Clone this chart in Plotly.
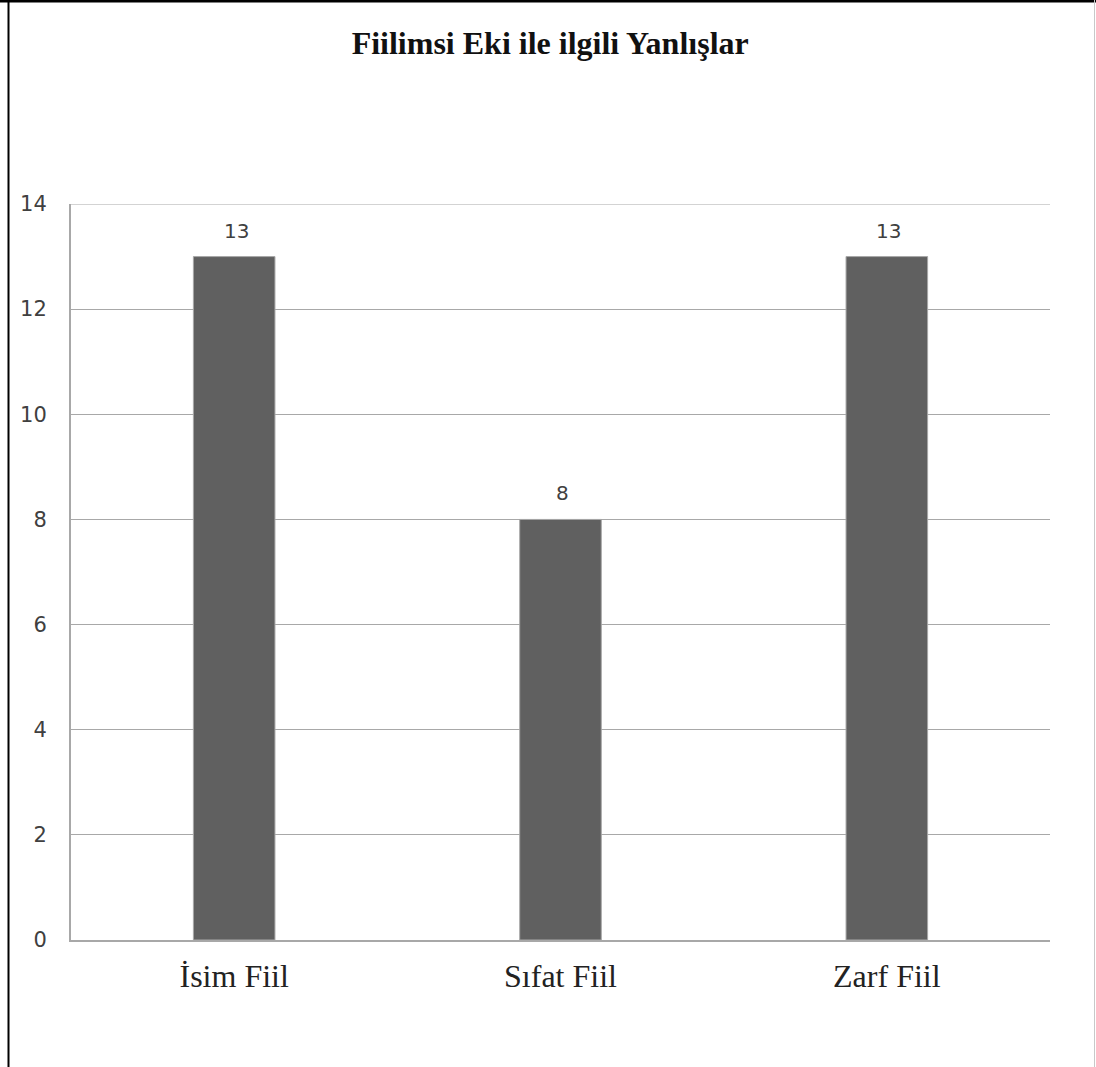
import plotly.graph_objects as go

# Fiilimsi eki ile ilgili yanlış sayıları
categories = ["İsim Fiil", "Sıfat Fiil", "Zarf Fiil"]
values = [13, 8, 13]
y_ticks = [0, 2, 4, 6, 8, 10, 12, 14]
y_max = 14

W, H = 1096, 1067
ML, MR, MT, MB = 71, 46, 204, 127
PW, PH = W - ML - MR, H - MT - MB


def px_x(px):
    return (px - ML) / PW


def px_y(py):
    return 1 - (py - MT) / PH


fig = go.Figure(
    go.Bar(
        x=categories,
        y=values,
        marker=dict(color="#606060", line=dict(color="#a8a8a8", width=1)),
        hoverinfo="skip",
    )
)

# value labels above the bars
for c, v in zip(categories, values):
    fig.add_annotation(
        x=c, y=v, text=str(v), showarrow=False,
        yanchor="bottom", yshift=12, xshift=2,
        font=dict(family="DejaVu Sans, Open Sans, sans-serif", size=20, color="#404040"),
    )

# top gridline at the axis maximum
fig.add_shape(
    type="line", xref="paper", yref="y",
    x0=0, x1=1, y0=y_max, y1=y_max,
    line=dict(color="#a8a8a8", width=1),
)

# outer frame of the chart
frame = [
    dict(x0=px_x(8.5), x1=px_x(8.5), y0=px_y(0), y1=px_y(H), color="#000000", width=2),
    dict(x0=px_x(0), x1=px_x(W), y0=px_y(1), y1=px_y(1), color="#000000", width=3),
    dict(x0=px_x(1094.5), x1=px_x(1094.5), y0=px_y(0), y1=px_y(H), color="#c8c8c8", width=1),
]
for f in frame:
    fig.add_shape(
        type="line", xref="paper", yref="paper",
        x0=f["x0"], x1=f["x1"], y0=f["y0"], y1=f["y1"],
        line=dict(color=f["color"], width=f["width"]),
    )

fig.update_layout(
    width=W, height=H,
    margin=dict(l=ML, r=MR, t=MT, b=MB),
    paper_bgcolor="white",
    plot_bgcolor="white",
    bargap=0.75,
    showlegend=False,
    title=dict(
        text="<b>Fiilimsi Eki ile ilgili Yanlışlar</b>",
        x=0.502, xanchor="center",
        y=1 - 43 / H, yanchor="middle", yref="container",
        font=dict(family="Liberation Serif, Times New Roman, serif", size=32, color="#111111"),
    ),
    xaxis=dict(
        showgrid=False,
        showline=True, linecolor="#a8a8a8", linewidth=2,
        ticks="",
        ticklabelstandoff=7,
        tickfont=dict(family="Liberation Serif, Times New Roman, serif", size=32, color="#222222"),
        fixedrange=True,
    ),
    yaxis=dict(
        range=[0, y_max],
        tickvals=y_ticks,
        showgrid=True, gridcolor="#a8a8a8", gridwidth=1,
        showline=True, linecolor="#a8a8a8", linewidth=2,
        zeroline=False,
        ticks="",
        ticklabelstandoff=18,
        tickfont=dict(family="DejaVu Sans, Open Sans, sans-serif", size=21, color="#404040"),
        fixedrange=True,
    ),
)

fig.write_html("out.html")
